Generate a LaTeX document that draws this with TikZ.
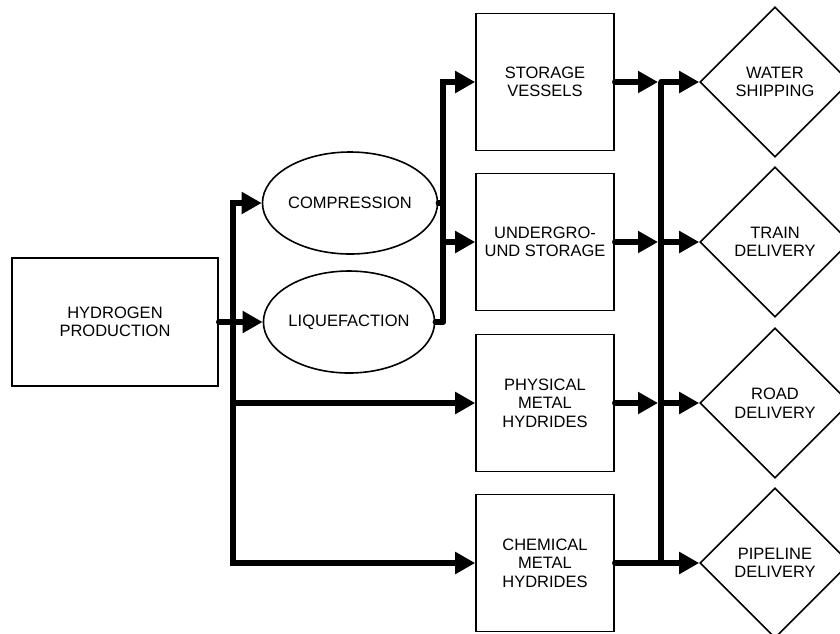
\documentclass[tikz,border=0pt]{standalone}
\usepackage{fontspec}
\setmainfont{Liberation Sans}
\usetikzlibrary{shapes.geometric,arrows.meta}
\tikzset{
  box/.style={draw,line width=1.6pt,minimum width=138pt,minimum height=137pt,inner sep=0pt,align=center},
  oval/.style={draw,ellipse,line width=1.6pt,minimum width=164pt,minimum height=102pt,inner sep=0pt,align=center},
  rhomb/.style={draw,diamond,line width=1.6pt,minimum width=150pt,minimum height=150pt,inner sep=0pt,align=center},
  flow/.style={line width=5.5pt,line cap=round,line join=miter},
}
\begin{document}
\begin{tikzpicture}[x=1pt,y=-1pt,>={Triangle[length=20pt,width=21pt]},font=\fontsize{16.5}{18.5}\selectfont]
\clip (0,0) rectangle (840,633);
% source and conversion
\node[box,minimum width=206pt,minimum height=128pt] (hyd) at (115,322) {HYDROGEN\\PRODUCTION};
\node[oval] (comp) at (350,203) {COMPRESSION};
\node[oval] (liq) at (349,322) {LIQUEFACTION};
% storage
\node[box] (stor) at (545,82) {STORAGE\\VESSELS};
\node[box] (und) at (545,242) {UNDERGRO-\\UND STORAGE};
\node[box] (phys) at (545,403) {PHYSICAL\\METAL\\HYDRIDES};
\node[box] (chem) at (545,563) {CHEMICAL\\METAL\\HYDRIDES};
% delivery
\node[rhomb] (ws) at (775,82) {WATER\\SHIPPING};
\node[rhomb] (td) at (775,242) {TRAIN\\DELIVERY};
\node[rhomb] (rd) at (775,403) {ROAD\\DELIVERY};
\node[rhomb] (pd) at (775,563) {PIPELINE\\DELIVERY};
% junctions
\coordinate (lb) at (233,563);
\coordinate (mj) at (443,322);
\coordinate (rt) at (661,82);
\coordinate (rb) at (661,563);
% left side
\draw[flow,->] (hyd.east) -- (liq.west);
\draw[flow,<->] (comp.west) -| (lb) -- (chem.west);
\draw[flow,->] (lb |- phys.west) -- (phys.west);
\draw[flow] (liq.east) -- (mj);
\draw[flow,->] (mj) |- (stor.west);
\draw[flow] (comp.east) -- (comp.east -| mj);
\draw[flow,->] (mj |- und.west) -- (und.west);
% right side
\draw[line width=6pt] (rt) -- (rb);
\foreach \b in {stor,und,phys}
  \draw[flow,->,shorten >=3pt] (\b.east) -- (\b.east -| rt);
\draw[flow] (chem.east) -- (chem.east -| rt);
\foreach \b/\d in {stor/ws,und/td,phys/rd,chem/pd}
  \draw[flow,->] (\b.east -| rt) -- (\d.west);
\end{tikzpicture}
\end{document}
